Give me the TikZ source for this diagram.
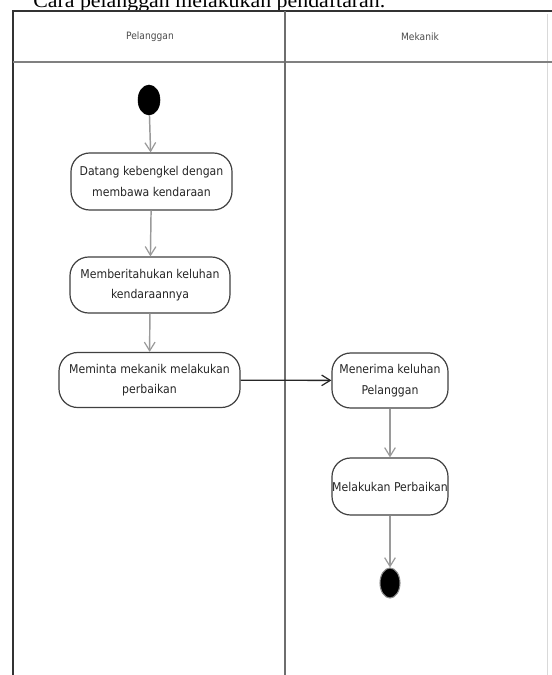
\documentclass[tikz,border=0pt]{standalone}
\usepackage{fontspec}
\setmainfont{Liberation Serif}
\newfontfamily\lanefont{DejaVu Sans Condensed}
\usetikzlibrary{arrows.meta,shapes.geometric}
\definecolor{flowgray}{HTML}{9A9A9A}
\definecolor{framegray}{HTML}{6E6E6E}
\begin{document}
\begin{tikzpicture}[x=0.75pt,y=-0.75pt,
  action/.style={draw=black!75, line width=0.9pt, rounded corners=14pt, fill=white,
    align=center, text=black!85, font=\lanefont\fontsize{9.1}{15.5}\selectfont, inner sep=0pt},
  startdot/.style={ellipse, fill=black, draw=black, inner sep=0pt},
  flow/.style={draw=flowgray, line width=1.1pt,
    -{Straight Barb[length=6.5pt, width=8pt, line width=0.9pt]}},
  send/.style={draw=black!85, line width=1pt,
    -{Straight Barb[length=6.5pt, width=8pt, line width=0.9pt]}},
  lanetitle/.style={font=\lanefont\fontsize{7.6}{9}\selectfont, text=black!70}
]
\useasboundingbox (0,0) rectangle (552,675);
\clip (0,0) rectangle (552,675);
\fill[white] (0,0) rectangle (552,675);

% caption, partly cut off at the top edge
\node[anchor=base west, inner sep=0pt, font=\fontsize{15}{18}\selectfont] (caption) at (33,7)
  {\resizebox{264pt}{\height}{Cara pelanggan melakukan pendaftaran.}};

% swimlane frame
\draw[black!80, line width=0.9pt] (13,675) -- (13,11) -- (552,11);
\draw[black!15, line width=0.6pt] (547,14) -- (547,675);
\draw[black!50, line width=1.6pt] (13,62) -- (552,62);
\draw[framegray, line width=0.9pt] (285,11) -- (285,675);
\node[lanetitle] (laneA) at (150,37) {Pelanggan};
\node[lanetitle] (laneB) at (420,37) {Mekanik};

% activity nodes
\node[startdot, minimum width=16.5pt, minimum height=22.5pt] (start) at (149,100) {};
\node[action, minimum width=120.75pt, minimum height=42.75pt] (datang) at (151.5,181.5)
  {Datang kebengkel dengan\\membawa kendaraan};
\node[action, minimum width=120pt, minimum height=42pt] (keluhan) at (150,285)
  {Memberitahukan keluhan\\kendaraannya};
\node[action, minimum width=135.75pt, minimum height=41.25pt] (minta) at (149.5,380)
  {Meminta mekanik melakukan\\perbaikan};
\node[action, minimum width=87pt, minimum height=41.25pt] (terima) at (390,380.5)
  {Menerima keluhan\\Pelanggan};
\node[action, minimum width=87pt, minimum height=42.75pt] (perbaikan) at (390,486.5)
  {Melakukan Perbaikan};
\node[startdot, draw=black!45, line width=0.8pt, minimum width=15pt, minimum height=22.5pt] (finish) at (390,583) {};

% control flows
\draw[flow] (start) -- (datang);
\draw[flow] (datang) -- (keluhan);
\draw[flow] (keluhan) -- (minta);
\draw[send] (minta) -- (terima);
\draw[flow] (terima) -- (perbaikan);
\draw[flow] (perbaikan) -- (finish);
\end{tikzpicture}
\end{document}
